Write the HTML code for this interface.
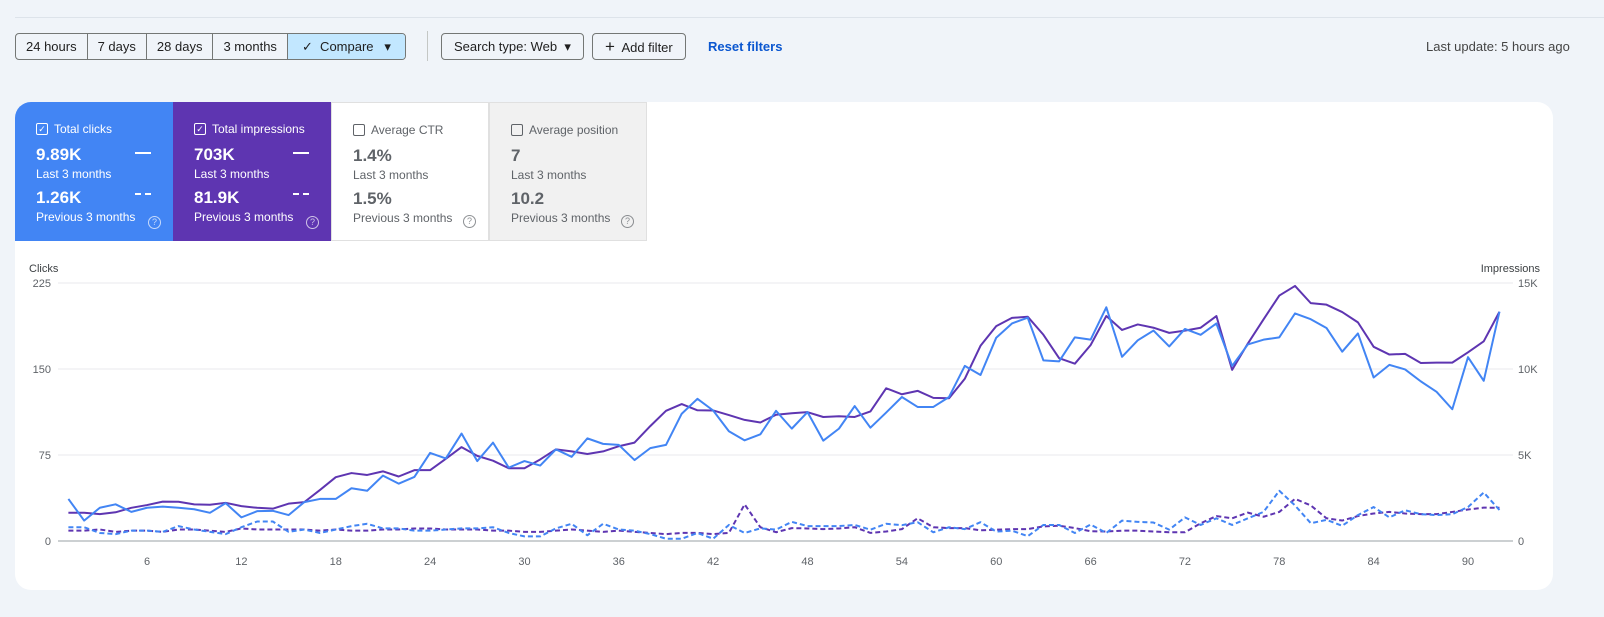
<!DOCTYPE html>
<html><head><meta charset="utf-8"><style>
body{margin:0;width:1604px;height:617px;background:#f0f4f9;font-family:"Liberation Sans",sans-serif;position:relative;overflow:hidden;color:#1f1f1f}
.topline{position:absolute;left:15px;right:0;top:17px;height:1px;background:#dde3ea}
.seg{position:absolute;top:33px;height:25px;display:flex;border:1px solid #747775;border-radius:4px;overflow:hidden;left:15px}
.seg div{padding:0 10px;font-size:13px;line-height:25px;border-right:1px solid #747775}
.seg div:last-child{border-right:none;background:#c2e7ff;padding:0 14px}
.btn{position:absolute;top:33px;height:25px;border:1px solid #747775;border-radius:4px;font-size:13px;line-height:25px;padding:0 12px;box-sizing:content-box}
.card{position:absolute;top:102px;width:158px;height:139px;box-sizing:border-box;padding:20px 0 0 21px;font-size:12px}
.card .t{display:flex;align-items:center;gap:6px}
.cb{width:10px;height:10px;border:1px solid currentColor;border-radius:2px;font-size:9px;line-height:10px;text-align:center}
.v{font-size:17px;font-weight:bold;margin-top:9px}
.v2{margin-top:7px}
.s{margin-top:2px}
.q{position:absolute;right:12px;bottom:12px;width:11px;height:11px;border:1px solid currentColor;border-radius:50%;font-size:9px;line-height:11px;text-align:center;opacity:.7}
</style></head><body>
<div class="topline"></div>
<div class="seg">
<div>24 hours</div><div>7 days</div><div>28 days</div><div>3 months</div><div>✓&nbsp; Compare &nbsp;&nbsp;▾</div></div>
<div style="position:absolute;left:427px;top:31px;width:1px;height:30px;background:#c4c7c5"></div>
<div class="btn" style="left:441px">Search type: Web &nbsp;▾</div>
<div class="btn" style="left:592px"><span style="font-size:17px">+</span>&nbsp; Add filter</div>
<div style="position:absolute;left:708px;top:39px;font-size:13px;color:#0b57d0;font-weight:bold">Reset filters</div>
<div style="position:absolute;left:1426px;top:39px;font-size:13px;color:#444;white-space:nowrap">Last update: 5 hours ago</div>
<div style="position:absolute;left:15px;top:102px;width:1538px;height:488px;background:#fff;border-radius:16px"></div>
<div class="card" style="left:15px;background:#4285f4;color:#fff;border-top-left-radius:16px">
<div class="t"><span class="cb">✓</span>Total clicks</div><div class="v">9.89K</div><div class="s">Last 3 months</div><div class="v v2">1.26K</div><div class="s">Previous 3 months</div>
<div style="position:absolute;left:120px;top:50px;width:16px;border-top:2px solid #fff"></div><div style="position:absolute;left:120px;top:91px;width:16px;border-top:2px dashed #fff"></div><div class="q">?</div></div>
<div class="card" style="left:173px;background:#5e35b1;color:#fff">
<div class="t"><span class="cb">✓</span>Total impressions</div><div class="v">703K</div><div class="s">Last 3 months</div><div class="v v2">81.9K</div><div class="s">Previous 3 months</div>
<div style="position:absolute;left:120px;top:50px;width:16px;border-top:2px solid #fff"></div><div style="position:absolute;left:120px;top:91px;width:16px;border-top:2px dashed #fff"></div><div class="q">?</div></div>
<div class="card" style="left:331px;background:#fff;color:#5f6368;border:1px solid #e0e0e0">
<div class="t"><span class="cb"></span>Average CTR</div><div class="v">1.4%</div><div class="s">Last 3 months</div><div class="v v2">1.5%</div><div class="s">Previous 3 months</div><div class="q">?</div></div>
<div class="card" style="left:489px;background:#f1f1f1;color:#5f6368;border:1px solid #e0e0e0">
<div class="t"><span class="cb"></span>Average position</div><div class="v">7</div><div class="s">Last 3 months</div><div class="v v2">10.2</div><div class="s">Previous 3 months</div><div class="q">?</div></div>
<svg id="chart" width="1604" height="617" style="position:absolute;left:0;top:0"></svg>
<script>
const days=[];for(let i=1;i<=92;i++)days.push(i);
const clicks=[36.7,17.8,29,32,25.4,29,30,29,27.7,24.6,33,20.6,26,26.3,22.6,33.9,36.7,36.7,46,43.8,57,50,55.9,76.8,72,93.7,69.7,85.8,64,69.7,65.8,79.9,73.4,89.5,84.7,83.8,70.6,81,83.8,111,124,113.8,95.7,87.8,93,113.5,98,112.4,87.5,98,117.7,98.8,112,125.6,116.9,116.9,125.6,152.7,144.8,177.3,189.7,194.8,157.5,156.7,177.6,175.6,203.8,160.6,175,183.5,169.7,184.9,179.8,189.7,152.7,171.4,175.6,177.6,198.5,193.4,185.8,165.1,181,142.6,153.6,149.6,139.2,130.1,114.9,160.3,139.7,200];
const impressions=[1640,1640,1560,1670,1930,2090,2290,2280,2130,2110,2220,2030,1930,1880,2170,2260,2970,3710,3950,3840,4050,3750,4120,4120,4780,5460,4950,4670,4230,4230,4740,5330,5210,5060,5210,5510,5720,6680,7570,7960,7600,7590,7320,7040,6890,7340,7430,7490,7210,7250,7210,7530,8880,8530,8730,8320,8300,9430,11350,12490,12970,13040,11990,10630,10310,11390,13080,12270,12590,12400,12100,12230,12400,13080,9950,11480,12890,14270,14830,13830,13740,13310,12710,11290,10840,10880,10350,10370,10370,10970,11610,13330];
const clicksPrev=[12,12,7,6,9,9,8,13,10,8,6,12,17,17,8,10,7,10,13,15,11,11,9,9,10,11,11,12,7,4,4,11,15,5,15,10,9,6,2,2,7,2,14,7,11,9.9,16.7,13,13,13,14,9.9,15,13.8,16.4,7.6,12,10.4,16.4,8.2,9,4.2,14,14,7,14.4,7,17.8,16.7,16.1,9.9,20.6,14,19.8,14,19.8,25.4,43.8,31,15.5,18.4,13.3,22.6,29.6,20.6,26.8,23.4,22.6,23.4,29.6,42.3,27];
const impressionsPrev=[600,600,670,530,600,600,530,670,670,600,530,730,670,670,670,670,600,670,600,600,670,670,730,730,670,670,670,600,600,530,530,600,670,600,530,600,530,470,400,470,470,400,470,2130,800,510,750,730,690,730,800,470,550,690,1320,800,750,750,620,660,690,690,850,890,750,570,550,600,600,550,510,510,1030,1450,1320,1650,1410,1690,2450,2070,1320,1190,1450,1600,1690,1600,1560,1560,1690,1830,1940,1930];
const leftTicks=[0,75,150,225];
const rightTicks=["0","5K","10K","15K"];
const rightTickVals=[0,5000,10000,15000];
const xTicks=[6,12,18,24,30,36,42,48,54,60,66,72,78,84,90];
const svg=document.getElementById('chart');const NS='http://www.w3.org/2000/svg';
const X0=58,X1=1513,Y0=541,Y1=283;
const xs=d=>68.4+(d-1)*15.726;
const yL=v=>Y0-(v/225)*(Y0-Y1);
const yR=v=>Y0-(v/15000)*(Y0-Y1);
function mk(t,a,txt){const e=document.createElementNS(NS,t);for(const k in a)e.setAttribute(k,a[k]);if(txt!==undefined)e.textContent=txt;svg.appendChild(e);return e;}
leftTicks.forEach((v,i)=>{
 const g=mk('line',{x1:X0,x2:X1,y1:yL(v),y2:yL(v),stroke:i==0?'#9aa0a6':'#e8eaed','stroke-width':1});
 
 
 const t=mk('text',{x:51,y:yL(v)+4,'text-anchor':'end','font-size':11,fill:'#5f6368','font-family':'Liberation Sans'},String(v));
 
 
});
rightTickVals.forEach((v,i)=>{
 const t=mk('text',{x:1518,y:yR(v)+4,'font-size':11,fill:'#5f6368','font-family':'Liberation Sans'},rightTicks[i]);
 
 
});
xTicks.forEach(d=>{
 const t=mk('text',{x:xs(d),y:565,'text-anchor':'middle','font-size':11,fill:'#5f6368','font-family':'Liberation Sans'},String(d));
 
 
});
const lt=mk('text',{x:29,y:272,'font-size':11,fill:'#3c4043','font-family':'Liberation Sans'},'Clicks');


const rt=mk('text',{x:1540,y:272,'text-anchor':'end','font-size':11,fill:'#3c4043','font-family':'Liberation Sans'},'Impressions');


function line(vals,yf,color,dash,name){
 const p=mk('polyline',{points:vals.map((v,i)=>xs(days[i])+','+yf(v)).join(' '),fill:'none',stroke:color,'stroke-width':2,'stroke-dasharray':dash,'stroke-linejoin':'round'});
 
 
}
line(impressionsPrev,yR,'#5e35b1','5 3','impressions-previous-line');
line(clicksPrev,yL,'#4285f4','5 3','clicks-previous-line');
line(impressions,yR,'#5e35b1','none','impressions-line');
line(clicks,yL,'#4285f4','none','clicks-line');
</script>
</body></html>
